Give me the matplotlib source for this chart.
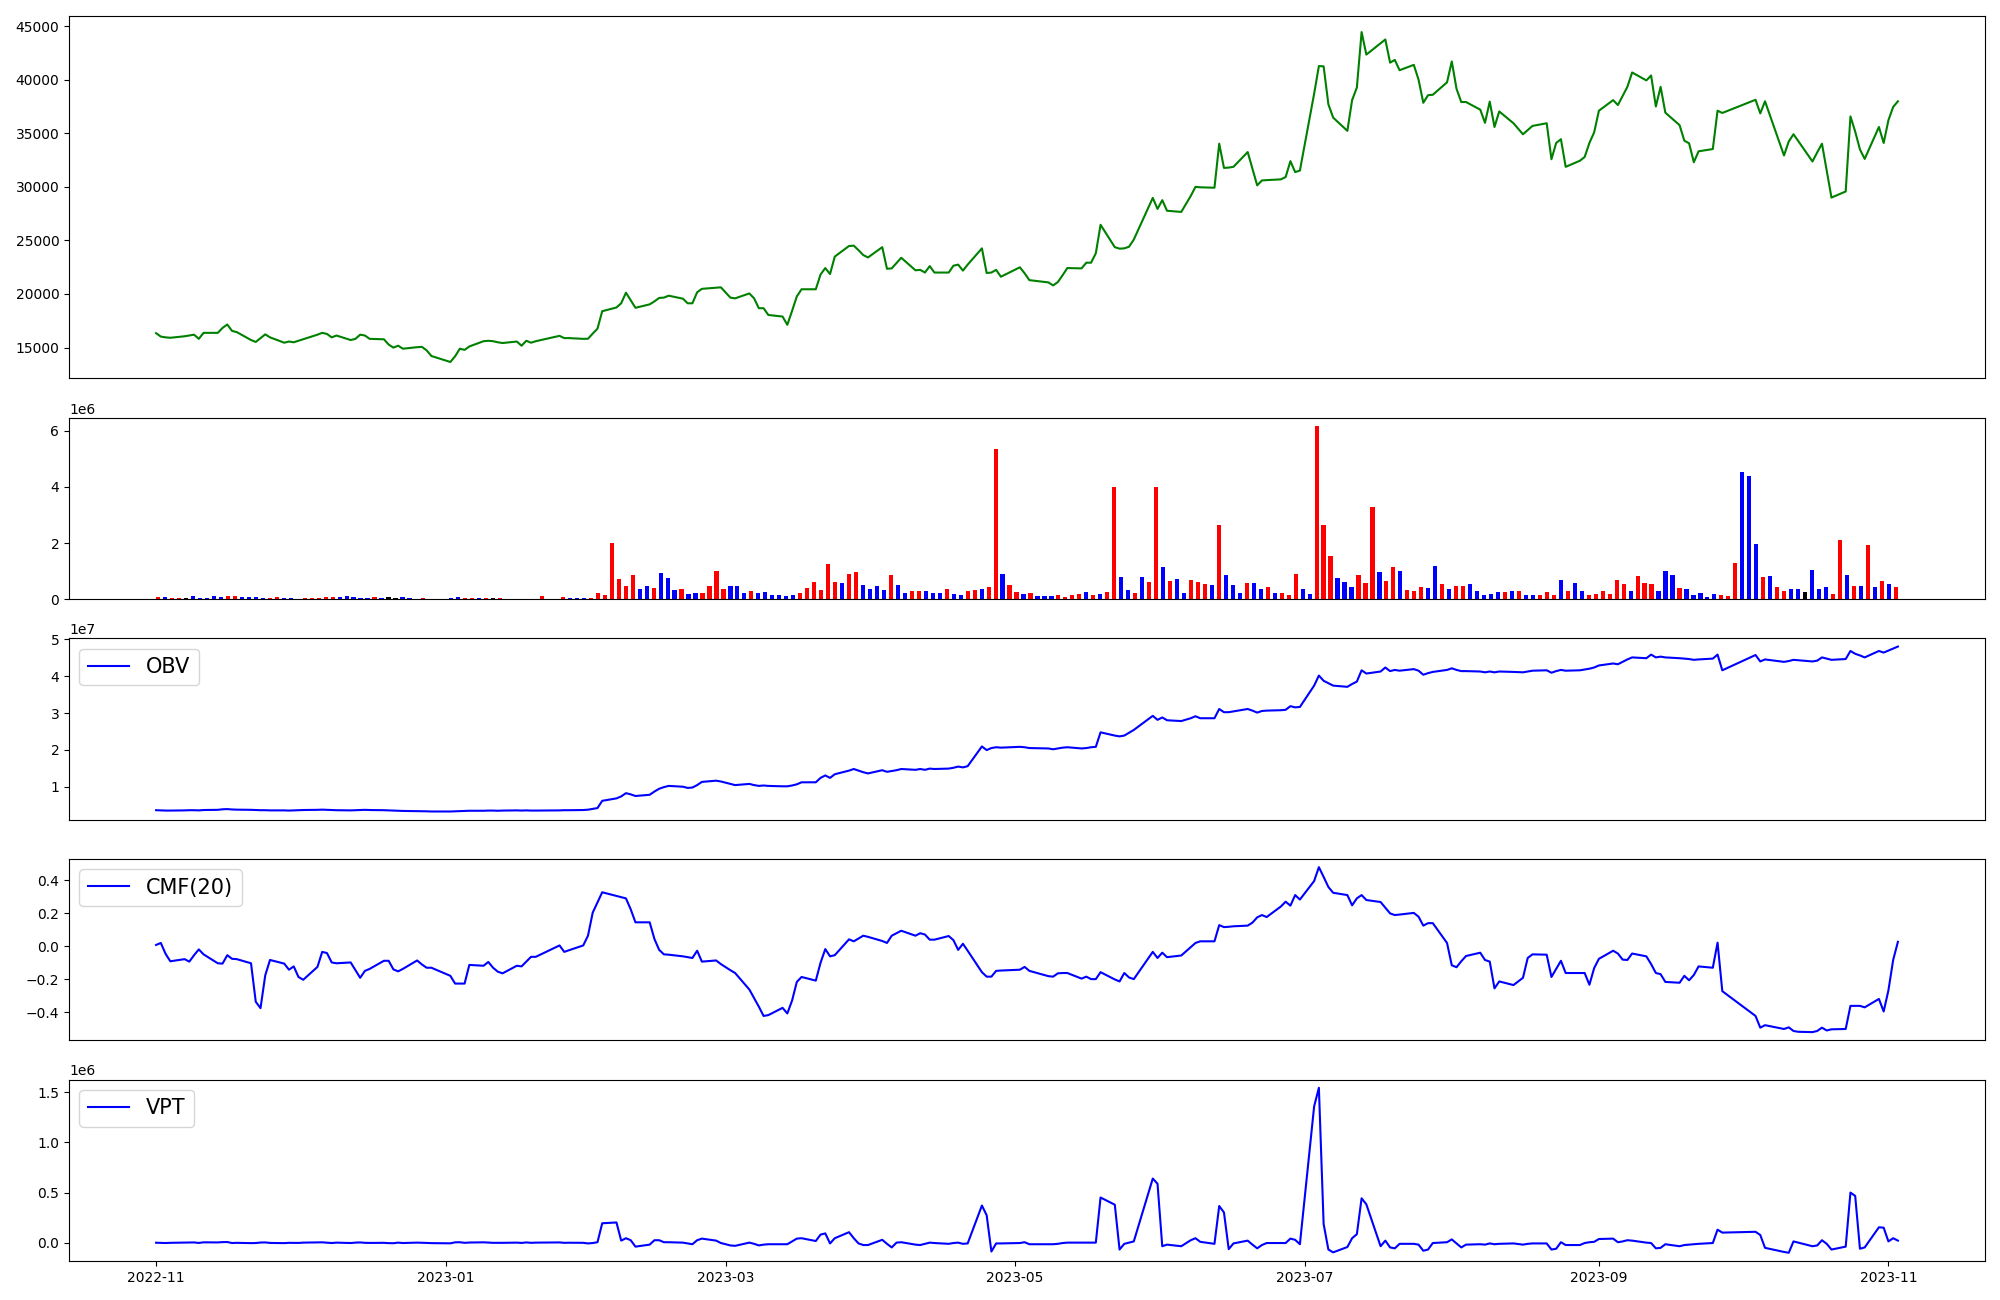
import numpy as np
import pandas as pd
import matplotlib
matplotlib.use("Agg")
import matplotlib.pyplot as plt

# ---- trading calendar (KRX) ----
HOLIDAYS = ["2022-12-30", "2023-01-23", "2023-01-24", "2023-03-01", "2023-05-01",
            "2023-05-05", "2023-05-29", "2023-06-06", "2023-08-15", "2023-09-28",
            "2023-09-29", "2023-10-02", "2023-10-03", "2023-10-09"]
dates = pd.bdate_range("2022-11-01", "2023-11-03")
dates = dates[~dates.isin(pd.to_datetime(HOLIDAYS))]

# ---- close price ----
close = [
    16340, 16020, 15950, 15910, 16050, 16120, 16200, 15810, 16370, 16370, 16830, 17150, 16550, 16440, 15700, 15520, 15880, 16230, 15950, 15450, 15560, 15490,
    15630, 15770, 16200, 16370, 16270, 15950, 16120, 15700, 15810, 16200, 16120, 15810, 15770, 15280, 14990, 15170, 14890, 15030, 15060, 14740, 14210,
    13650, 14180, 14890, 14780, 15100, 15590, 15630, 15590, 15490, 15420, 15560, 15170, 15630, 15450, 15590, 16090, 15880, 15880, 15810, 15820,
    16300, 16760, 18390, 18740, 19130, 20120, 19420, 18710, 19030, 19310, 19630, 19660, 19840, 19560, 19130, 19130, 20160, 20480, 20580, 20620,
    19660, 19590, 20050, 19590, 18670, 18670, 18040, 17890, 17120, 18420, 19770, 20440, 20440, 21820, 22420, 21860, 23490, 24480, 24510, 24090, 23630, 23410,
    24370, 22350, 22390, 22880, 23380, 22210, 22250, 22000, 22600, 22000, 22000, 22640, 22740, 22180, 22740, 24260, 21960, 22000, 22250, 21610,
    22490, 21930, 21290, 21080, 20800, 21110, 21750, 22420, 22390, 22920, 22920, 23800, 26460, 24370, 24230, 24260, 24410, 25080, 28970, 27940,
    28760, 27770, 27660, 29150, 30000, 29960, 29920, 34030, 31770, 31800, 31870, 33250, 31690, 30140, 30600, 30630, 30700, 30920, 32400, 31380, 31520,
    38700, 41280, 41250, 37710, 36470, 35230, 38100, 39270, 44450, 42350, 43410, 43760, 41600, 41850, 40890, 41390, 40010, 37850, 38560, 38600, 39760,
    41710, 39160, 37920, 37920, 37210, 35980, 37960, 35590, 37040, 35940, 34910, 35300, 35690, 35940, 32580, 34100, 34450, 31870, 32440, 32790, 34100, 35090,
    37110, 38100, 37640, 38490, 39340, 40680, 39940, 40400, 37500, 39340, 36930, 35760, 34310, 34070, 32300, 33320, 33530, 37110, 36900,
    38130, 36860, 37990, 32930, 34240, 34910, 34280, 32370, 33220, 34030, 31520, 29000, 29570, 36580, 35160, 33500, 32610, 35590, 34100,
    36220, 37460, 37990,
]

# ---- volume (thousands of shares) and bar colours ----
volume_k = [
    68, 68, 41, 41, 41, 109, 54, 54, 95, 68,
    95, 95, 68, 68, 68, 41, 41, 68, 41, 41,
    20, 41, 41, 41, 68, 68, 68, 95, 68, 41,
    41, 68, 41, 68, 41, 68, 41, 20, 41, 20,
    20, 20, 41, 68, 41, 41, 41, 41, 41, 41,
    20, 20, 20, 20, 20, 109, 20, 20, 68, 41,
    54, 27, 27, 217, 136, 1997, 720, 462, 856, 353,
    462, 394, 924, 747, 326, 353, 177, 217, 217, 462,
    1005, 353, 462, 462, 217, 285, 217, 245, 136, 136,
    109, 136, 217, 394, 611, 326, 1250, 611, 571, 897,
    965, 503, 353, 462, 326, 856, 503, 217, 285, 285,
    285, 217, 217, 353, 177, 136, 285, 326, 353, 421,
    5366, 897, 503, 245, 177, 217, 109, 109, 109, 136,
    68, 136, 177, 245, 136, 177, 245, 4008, 788, 326,
    217, 788, 611, 4008, 1141, 639, 720, 217, 679, 611,
    530, 503, 2649, 856, 503, 217, 571, 571, 353, 421,
    217, 217, 136, 897, 353, 177, 6160, 2649, 1535, 747,
    611, 421, 856, 571, 3288, 965, 639, 1141, 1005, 326,
    285, 421, 394, 1182, 530, 353, 462, 462, 530, 285,
    136, 177, 245, 245, 285, 285, 136, 136, 136, 245,
    136, 679, 285, 571, 285, 136, 177, 285, 177, 679,
    530, 285, 815, 571, 530, 285, 1005, 856, 394, 353,
    136, 217, 68, 177, 136, 109, 1291, 4538, 4402, 1970,
    788, 815, 421, 285, 353, 353, 245, 1033, 353, 421,
    177, 2106, 856, 462, 462, 1929, 421, 639, 530, 421,
]
bar_colors = (
    "rbrrkbbbbb" "rrbbbbrrbb" "rrrrrrbbbb" "brbkkbbbrr" "brbbrrbrkr"
    "rbrbrrbrrb" "bbrrrrrrrb" "brbbbrbbrr" "rrbbbrbbbb" "bbrrrrrrbr"
    "rbbbbrbbrr" "bbbrbbrrbr" "rbrrbrbbbr" "rrrbrbrrbb" "rbrrbrbbrr"
    "rbrbbbrbbr" "brrrbbrrrb" "bbrrrbrrbr" "rrbbrbrrbb" "bbbrbrbbrr"
    "rbrbbrrrrr" "rbrrrbbbrb" "bbbbrrrbbb" "rbrrbbkbbb" "rrbrbrbrbr"
)
COLOR_MAP = {"r": "red", "b": "blue", "k": "black"}

# ---- OBV (millions) ----
obv_m = [
    3.60, 3.55, 3.50, 3.50, 3.55, 3.60, 3.60, 3.55, 3.65, 3.70, 3.85, 3.90, 3.80, 3.75, 3.70, 3.65, 3.60, 3.60, 3.55, 3.55, 3.50, 3.55,
    3.60, 3.65, 3.70, 3.75, 3.70, 3.65, 3.60, 3.55, 3.60, 3.65, 3.70, 3.65, 3.60, 3.55, 3.50, 3.45, 3.40, 3.35, 3.35, 3.30, 3.25,
    3.25, 3.30, 3.35, 3.40, 3.45, 3.45, 3.50, 3.50, 3.45, 3.50, 3.55, 3.50, 3.55, 3.50, 3.50, 3.55, 3.60, 3.60, 3.65, 3.74,
    3.96, 4.18, 6.15, 6.81, 7.35, 8.23, 7.90, 7.46, 7.79, 8.67, 9.43, 9.87, 10.20, 9.98, 9.65, 9.76, 10.42, 11.29, 11.62, 11.40,
    10.74, 10.42, 10.74, 10.42, 10.20, 10.31, 10.20, 10.09, 10.09, 10.31, 10.63, 11.18, 11.18, 12.38, 13.04, 12.38, 13.37, 14.35, 14.79, 14.35, 13.92, 13.59,
    14.46, 14.03, 14.24, 14.46, 14.79, 14.57, 14.79, 14.57, 14.90, 14.79, 14.90, 15.12, 15.45, 15.23, 15.56, 20.92, 19.93, 20.48, 20.70, 20.59,
    20.81, 20.70, 20.48, 20.37, 20.15, 20.37, 20.59, 20.70, 20.37, 20.48, 20.70, 20.81, 24.75, 23.87, 23.65, 23.87, 24.64, 25.40, 29.23, 28.14,
    28.79, 28.03, 27.81, 28.58, 29.12, 28.58, 28.58, 31.09, 30.22, 30.22, 30.44, 31.09, 30.65, 30.11, 30.55, 30.65, 30.76, 30.87, 31.86, 31.53, 31.64,
    37.44, 40.17, 38.75, 38.09, 37.44, 37.11, 37.88, 38.53, 41.60, 40.72, 41.27, 42.36, 41.38, 41.70, 41.49, 41.92, 41.49, 40.39, 40.83, 41.16, 41.70,
    42.14, 41.70, 41.38, 41.38, 41.27, 41.05, 41.27, 41.05, 41.27, 41.16, 41.05, 41.27, 41.49, 41.60, 40.94, 41.38, 41.70, 41.49, 41.60, 41.81, 42.03, 42.36,
    42.91, 43.45, 43.24, 43.89, 44.55, 45.10, 44.88, 45.86, 45.10, 45.31, 45.10, 44.88, 44.77, 44.66, 44.44, 44.55, 44.77, 45.86, 41.60,
    45.75, 44.00, 44.55, 43.89, 44.11, 44.44, 44.33, 44.00, 44.22, 45.10, 44.77, 44.44, 44.66, 46.85, 46.08, 45.64, 45.10, 46.85, 46.41,
    46.96, 47.50, 48.05,
]

# ---- CMF(20) ----
cmf = [
    0.008, 0.020, -0.046, -0.091, -0.078, -0.093, -0.054, -0.019, -0.049, -0.103, -0.105, -0.054, -0.076, -0.078, -0.103, -0.336, -0.375, -0.176, -0.083, -0.105, -0.142, -0.122,
    -0.186, -0.203, -0.125, -0.034, -0.041, -0.098, -0.103, -0.098, -0.145, -0.191, -0.149, -0.137, -0.088, -0.088, -0.140, -0.152, -0.137, -0.086, -0.110, -0.130, -0.130,
    -0.179, -0.226, -0.226, -0.226, -0.113, -0.118, -0.095, -0.130, -0.154, -0.164, -0.118, -0.122, -0.093, -0.064, -0.064, 0.005, -0.034, -0.024, 0.005, 0.064,
    0.204, 0.265, 0.327, 0.305, 0.297, 0.290, 0.224, 0.145, 0.145, 0.044, -0.022, -0.049, -0.051, -0.061, -0.066, -0.071, -0.027, -0.093, -0.086, -0.108,
    -0.145, -0.162, -0.262, -0.314, -0.366, -0.422, -0.417, -0.373, -0.407, -0.329, -0.216, -0.186, -0.208, -0.100, -0.017, -0.061, -0.054, 0.042, 0.030, 0.047, 0.064, 0.057,
    0.032, 0.020, 0.064, 0.079, 0.094, 0.064, 0.079, 0.071, 0.040, 0.040, 0.062, 0.037, -0.022, 0.015, -0.027, -0.157, -0.184, -0.184, -0.149, -0.147,
    -0.142, -0.125, -0.149, -0.181, -0.184, -0.164, -0.162, -0.162, -0.196, -0.184, -0.199, -0.199, -0.157, -0.201, -0.213, -0.162, -0.189, -0.199, -0.034, -0.071,
    -0.039, -0.066, -0.056, -0.005, 0.020, 0.030, 0.030, 0.128, 0.116, 0.118, 0.121, 0.125, 0.143, 0.175, 0.189, 0.177, 0.241, 0.270, 0.246, 0.310, 0.283,
    0.395, 0.479, 0.420, 0.359, 0.324, 0.310, 0.248, 0.290, 0.310, 0.280, 0.268, 0.233, 0.199, 0.189, 0.192, 0.202, 0.179, 0.125, 0.140, 0.140, 0.020,
    -0.115, -0.127, -0.091, -0.059, -0.039, -0.083, -0.093, -0.255, -0.213, -0.235, -0.191, -0.071, -0.049, -0.051, -0.186, -0.137, -0.088, -0.162, -0.162, -0.162, -0.233, -0.132,
    -0.076, -0.027, -0.044, -0.081, -0.083, -0.044, -0.061, -0.108, -0.162, -0.169, -0.216, -0.221, -0.179, -0.206, -0.174, -0.122, -0.130, 0.022, -0.272,
    -0.422, -0.493, -0.478, -0.501, -0.491, -0.513, -0.518, -0.520, -0.513, -0.493, -0.510, -0.503, -0.501, -0.361, -0.361, -0.361, -0.370, -0.319, -0.395,
    -0.267, -0.083, 0.027,
]

# ---- VPT (thousands) ----
vpt_k = [
    0, -2, -3, -1, 1, 2, 3, -2, 4, 3, 6, 7, -3, -1, -4, -3, 2, 3, -2, -4, -1, -2,
    -2, 1, 3, 4, 1, -3, 1, -3, 1, 3, -1, -2, -1, -4, -5, 1, -3, 1, 0, -2, -4,
    -6, 4, 5, -1, 2, 4, 1, -1, -1, -1, 1, -2, 3, -1, 1, 3, -1, 0, -1, -7,
    -3, 5, 194, 202, 21, 45, 25, -39, -19, 25, 25, 5, 5, 1, -7, -15, 25, 41, 21, -3,
    -27, -31, 1, -11, -27, -19, -15, -15, -15, 13, 41, 45, 17, 81, 93, -7, 45, 105, 45, -7, -23, -23,
    29, -11, -47, 1, 5, -19, -23, -11, 1, -3, -11, -3, 1, -11, -7, 371, 274, -88, -7, -7,
    -3, 5, -15, -15, -15, -11, -3, 1, 1, 1, 1, 1, 451, 379, -68, -11, 1, 13, 640, 588,
    -35, -19, -35, 25, 45, 9, -11, 366, 302, -64, -7, 21, -19, -56, -23, -3, -3, -3, 41, 29, -15,
    1360, 1545, 186, -68, -96, -43, 45, 85, 443, 383, -35, 21, -47, -56, -11, -11, -19, -80, -68, -3, 5,
    33, -7, -47, -19, -15, -19, -7, -15, -11, -7, -19, -11, -7, -7, -68, -60, 5, -23, -23, -3, 5, 9,
    37, 41, 5, 13, 25, 21, 1, -3, -56, -51, -15, -35, -23, -19, -15, -11, -3, 130, 101,
    109, 77, -51, -92, -100, 13, 1, -35, -27, 25, -11, -68, -39, 500, 467, -60, -47, 154, 150,
    13, 45, 21,
]

volume = np.array(volume_k) * 1000
obv = np.array(obv_m) * 1e6
vpt = np.array(vpt_k) * 1000
colors = [COLOR_MAP[c] for c in bar_colors]

fig = plt.figure(figsize=(20, 13), dpi=100)
gs = fig.add_gridspec(5, 1, height_ratios=[2, 1, 1, 1, 1], left=0.0345, right=0.9925,
                      top=0.988, bottom=0.030, hspace=0.18)
ax_price = fig.add_subplot(gs[0])
ax_vol = fig.add_subplot(gs[1])
ax_obv = fig.add_subplot(gs[2], sharex=ax_price)
ax_cmf = fig.add_subplot(gs[3], sharex=ax_price)
ax_vpt = fig.add_subplot(gs[4], sharex=ax_price)

ax_price.plot(dates, close, color="green", linewidth=1.5)

ax_vol.bar(np.arange(len(volume)), volume, color=colors, width=0.6)
ax_vol.set_xticks([])

ax_obv.plot(dates, obv, color="blue", linewidth=1.5, label="OBV")
ax_obv.legend(loc="upper left", fontsize=15)

ax_cmf.plot(dates, cmf, color="blue", linewidth=1.5, label="CMF(20)")
ax_cmf.legend(loc="upper left", fontsize=15)

ax_vpt.plot(dates, vpt, color="blue", linewidth=1.5, label="VPT")
ax_vpt.legend(loc="upper left", fontsize=15)

for ax in (ax_price, ax_obv, ax_cmf):
    ax.tick_params(axis="x", bottom=False, labelbottom=False)

fig.savefig("out.png", dpi=100)
